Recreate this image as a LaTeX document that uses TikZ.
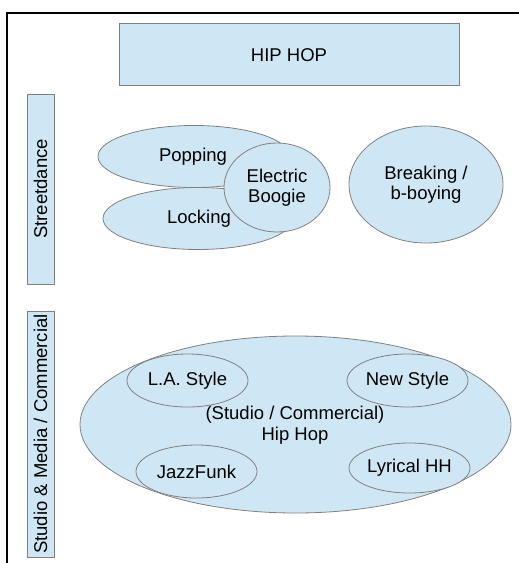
\documentclass[tikz,border=0pt]{standalone}
\usepackage{fontspec}
\setmainfont{Liberation Sans}
\usetikzlibrary{shapes.geometric}
\definecolor{boxfill}{RGB}{207,231,245}
\definecolor{boxline}{RGB}{128,128,128}
\begin{document}
\begin{tikzpicture}[x=1pt,y=-1pt,
  every node/.style={font=\fontsize{18.5}{20.5}\selectfont, align=center, inner sep=0pt},
  rbox/.style={draw=boxline, fill=boxfill, line width=0.8pt, rectangle},
  ell/.style={draw=boxline, fill=boxfill, line width=0.8pt, ellipse}]
\useasboundingbox (0,0) rectangle (519,563);
\draw[line width=1.5pt] (7,563) -- (7,13) -- (519,13);
\node[rbox, minimum width=340pt, minimum height=62pt] (hiphop) at (289,54) {};
\node (hiphoptxt) at (289,55.5) {HIP HOP};
\node[rbox, minimum width=27pt, minimum height=190pt] (street) at (40.5,189) {};
\node[rotate=90] (streettxt) at (street.center) {Streetdance};
\node[rbox, minimum width=27pt, minimum height=246pt] (studio) at (40.5,434) {};
\node[rotate=90] (studiotxt) at (studio.center) {Studio \& Media / Commercial};
\node[ell, minimum width=192pt, minimum height=62pt] (popping) at (194,156.5) {};
\node[ell, minimum width=190pt, minimum height=62pt] (locking) at (198,218.5) {};
\node (poptxt) at (193,157) {Popping};
\node (locktxt) at (199,219) {Locking};
\node[ell, minimum width=106pt, minimum height=89pt] (boogie) at (277,187.5) {Electric\\Boogie};
\node[ell, minimum width=154pt, minimum height=117pt] (breaking) at (426,184.5) {Breaking /\\b-boying};
\node[ell, minimum width=431pt, minimum height=177pt] (studiohh) at (295.5,424.5) {};
\node (studiotext) at (295,425) {(Studio / Commercial)\\Hip Hop};
\node[ell, minimum width=121pt, minimum height=53pt] (la) at (187.5,380.5) {L.A. Style};
\node[ell, minimum width=121pt, minimum height=53pt] (newstyle) at (407.5,380.5) {New Style};
\node[ell, minimum width=121pt, minimum height=53pt] (jazz) at (196.5,471.5) {JazzFunk};
\node[ell, minimum width=121pt, minimum height=50pt] (lyrical) at (409.5,468) {Lyrical HH};
\end{tikzpicture}
\end{document}
